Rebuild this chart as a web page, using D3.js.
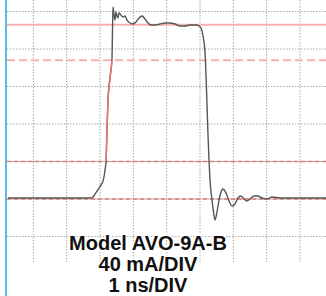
<!DOCTYPE html>
<html>
<head>
<meta charset="utf-8">
<script src="https://cdn.jsdelivr.net/npm/d3@7"></script>
<style>
  body { margin: 0; background: #fff; }
  svg { display: block; }
</style>
</head>
<body>
<script>
// scope trace, 1 ns/DIV horizontally, 40 mA/DIV vertically
var timeTicks = [1, 2, 3, 4, 5, 6, 7, 8, 9];
var currentTicks = [-40, 80, 120, 160, 200];
var solidLevels = [0, 40];

// reference levels drawn in red
var topLevel = [186];
var upperLevel = [148];
var lowerLevels = [40, 0];

var labels = ["Model AVO-9A-B", "40 mA/DIV", "1 ns/DIV"];

// sampled waveform (ns, mA)
var traceT = [0.24, 0.90, 1.80, 2.40, 2.70, 2.79, 2.85, 2.91, 2.97, 3.03, 3.09, 3.12, 3.15, 3.18, 3.21, 3.24, 3.30, 3.36, 3.375, 3.39,
  3.42, 3.45, 3.48, 3.51, 3.54, 3.57, 3.63, 3.69, 3.75, 3.81, 3.90, 3.99, 4.08, 4.17, 4.26, 4.35, 4.44, 4.53, 4.65, 4.80,
  4.95, 5.10, 5.25, 5.40, 5.55, 5.70, 5.88, 5.97, 6.03, 6.09, 6.15, 6.18, 6.21, 6.24, 6.27, 6.30, 6.36, 6.42, 6.45, 6.51,
  6.57, 6.63, 6.69, 6.78, 6.87, 6.96, 7.05, 7.14, 7.23, 7.32, 7.41, 7.50, 7.62, 7.74, 7.86, 8.01, 8.16, 8.40, 8.70, 9.00, 9.78];
var traceI = [1.1, 1.1, 1.1, 1.1, 1.1, 2.1, 5.3, 8.5, 11.7, 14.9, 19.2, 23.5, 30.9, 39.5, 73.6, 105.6, 129.1, 150.4, 180.3, 204.8,
  197.3, 190.9, 199.5, 195.2, 193.1, 198.4, 196.3, 194.1, 195.2, 190.9, 187.7, 186.7, 188.8, 193.1, 195.2, 192.0, 187.7, 185.6, 185.6, 186.7,
  187.7, 187.7, 186.7, 184.5, 184.5, 185.6, 185.6, 184.5, 182.4, 173.9, 156.8, 132.3, 100.3, 68.3, 41.6, 20.3, -1.1, -17.1, -22.4, -13.9,
  -1.1, 7.5, 10.7, 6.4, -2.1, -7.5, -5.3, 1.1, 3.2, 0, -2.1, 0, 3.2, 3.2, 1.1, 0, 2.1, 1.1, 1.1, 1.1, 1.1];

var width = 326, height = 296;
var plotLeft = 7, plotBottom = 262;

var svg = d3.select('body').append('svg')
  .attr('width', width)
  .attr('height', height);

var x = d3.scaleLinear().domain([0, 9.78]).range([0, 326]);
var y = d3.scaleLinear().domain([0, 40]).range([199, 161.5]);

// left blue border
svg.append('rect')
  .attr('x', 5).attr('y', 0)
  .attr('width', 2).attr('height', height)
  .attr('fill', '#5bbce6');

// dotted grid
svg.selectAll('.vgrid').data(timeTicks).enter().append('line')
  .attr('x1', d => x(d)).attr('x2', d => x(d))
  .attr('y1', 0).attr('y2', plotBottom)
  .attr('stroke', '#a8a8a8').attr('stroke-width', 1)
  .attr('stroke-dasharray', '1.5,1.5');

svg.selectAll('.hgrid').data(currentTicks).enter().append('line')
  .attr('x1', plotLeft).attr('x2', width)
  .attr('y1', d => y(d)).attr('y2', d => y(d))
  .attr('stroke', '#a8a8a8').attr('stroke-width', 1)
  .attr('stroke-dasharray', '1.5,1.5');

svg.selectAll('.solid').data(solidLevels).enter().append('line')
  .attr('x1', plotLeft).attr('x2', width)
  .attr('y1', d => y(d)).attr('y2', d => y(d))
  .attr('stroke', '#aaa').attr('stroke-width', 1);

// red reference levels
svg.selectAll('.top').data(topLevel).enter().append('line')
  .attr('x1', plotLeft).attr('x2', width)
  .attr('y1', d => y(d)).attr('y2', d => y(d))
  .attr('stroke', '#f7b0b0').attr('stroke-width', 2);

svg.selectAll('.upper').data(upperLevel).enter().append('line')
  .attr('x1', plotLeft).attr('x2', width)
  .attr('y1', d => y(d)).attr('y2', d => y(d))
  .attr('stroke', '#f7b0b0').attr('stroke-width', 2)
  .attr('stroke-dasharray', '8,4');

svg.selectAll('.lower').data(lowerLevels).enter().append('line')
  .attr('x1', plotLeft).attr('x2', width)
  .attr('y1', d => y(d)).attr('y2', d => y(d))
  .attr('stroke', '#ee7777').attr('stroke-width', 1.5)
  .attr('stroke-dasharray', '4,3');

// waveform
var pts = traceT.map((t, i) => [t, traceI[i]]);
var line = d3.line()
  .x(d => x(d[0]))
  .y(d => y(d[1]))
  .curve(d3.curveMonotoneX);

svg.append('path')
  .attr('d', line(pts))
  .attr('fill', 'none')
  .attr('stroke', '#555')
  .attr('stroke-width', 1.4);

// rising edge between the red levels drawn in red
svg.append('clipPath').attr('id', 'rise')
  .append('rect')
  .attr('x', x(3.0)).attr('width', x(3.6) - x(3.0))
  .attr('y', y(upperLevel[0])).attr('height', y(lowerLevels[0]) - y(upperLevel[0]));

svg.append('path')
  .attr('d', line(pts))
  .attr('clip-path', 'url(#rise)')
  .attr('fill', 'none')
  .attr('stroke', '#f07070')
  .attr('stroke-width', 1.4);

// caption
svg.selectAll('.label').data(labels).enter().append('text')
  .attr('x', 148)
  .attr('y', (d, i) => 250 + i * 21)
  .attr('text-anchor', 'middle')
  .attr('font-family', 'Liberation Sans, Arial, sans-serif')
  .attr('font-weight', 'bold')
  .attr('font-size', 20)
  .attr('fill', '#111')
  .attr('stroke', '#fff')
  .attr('stroke-width', 3)
  .attr('paint-order', 'stroke')
  .text(d => d);
</script>
</body>
</html>
